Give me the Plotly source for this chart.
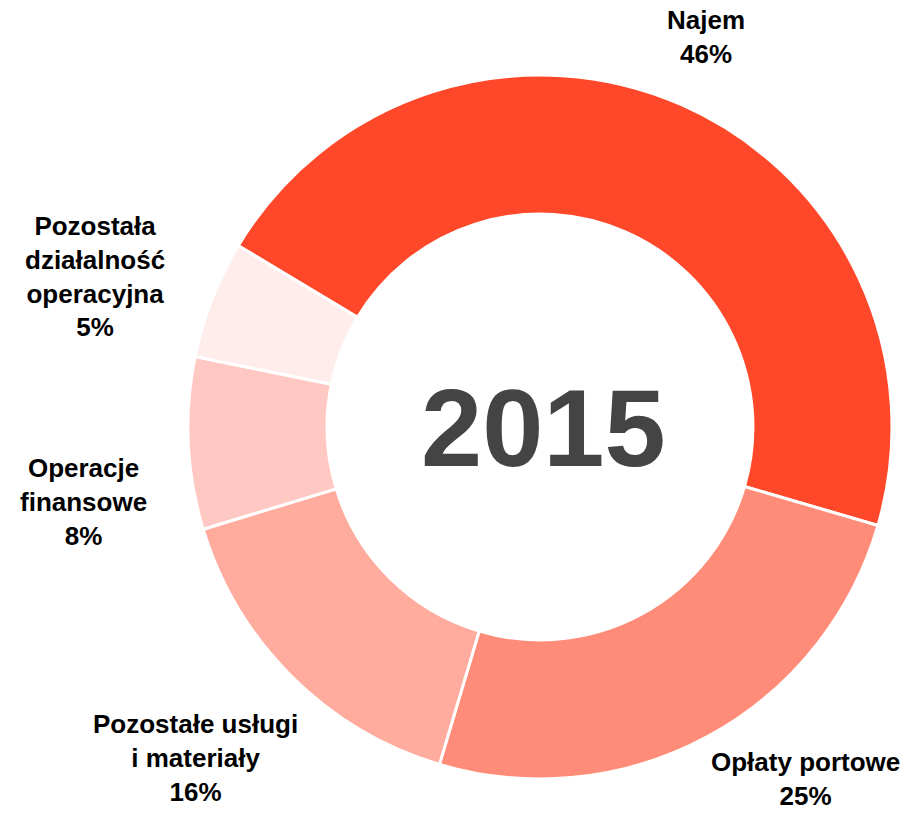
import plotly.graph_objects as go

labels = ["Najem", "Opłaty portowe", "Pozostałe usługi<br>i materiały", "Operacje<br>finansowe",
          "Pozostała<br>działalność<br>operacyjna"]
values = [45.9, 25.1, 15.7, 7.9, 5.4]
pct_labels = ["46%", "25%", "16%", "8%", "5%"]
colors = ["#FF482A", "#FF8C78", "#FFAB9E", "#FFC8C2", "#FFEDEB"]
center_text = "2015"

# layout (pixel positions of label centres)
W, H = 913, 814
cx, cy, r = 540, 427, 352
label_px = [(706, 37), (805, 779), (195, 758), (83, 502), (95, 277)]

dom_x = [(cx - r) / W, (cx + r) / W]
dom_y = [(H - cy - r) / H, (H - cy + r) / H]
FONT = "Liberation Sans, Arial, sans-serif"

fig = go.Figure()
fig.add_trace(go.Pie(
    labels=labels, values=values, sort=False, direction="clockwise", rotation=-59,
    hole=0.605, marker=dict(colors=colors, line=dict(color="white", width=3)),
    textinfo="none", hoverinfo="label+percent",
    showlegend=False, domain=dict(x=dom_x, y=dom_y),
))
for lab, pct, (px, py) in zip(labels, pct_labels, label_px):
    fig.add_annotation(text="<b>" + lab + "<br>" + pct + "</b>", x=px / W, y=1 - py / H,
                       xref="paper", yref="paper", xanchor="center", yanchor="middle",
                       showarrow=False, align="center", borderpad=0,
                       font=dict(family=FONT, size=26, color="#000000"))
fig.add_annotation(text="<b>" + center_text + "</b>", x=sum(dom_x) / 2, y=sum(dom_y) / 2,
                   xref="paper", yref="paper", showarrow=False, xshift=4,
                   font=dict(family=FONT, size=110, color="#444444"))
fig.update_layout(width=W, height=H, margin=dict(l=0, r=0, t=0, b=0),
                  paper_bgcolor="white", plot_bgcolor="white")
fig.write_html("out.html", config={"displayModeBar": False},
               post_script="document.body.style.margin='0';document.body.style.overflow='hidden';")
